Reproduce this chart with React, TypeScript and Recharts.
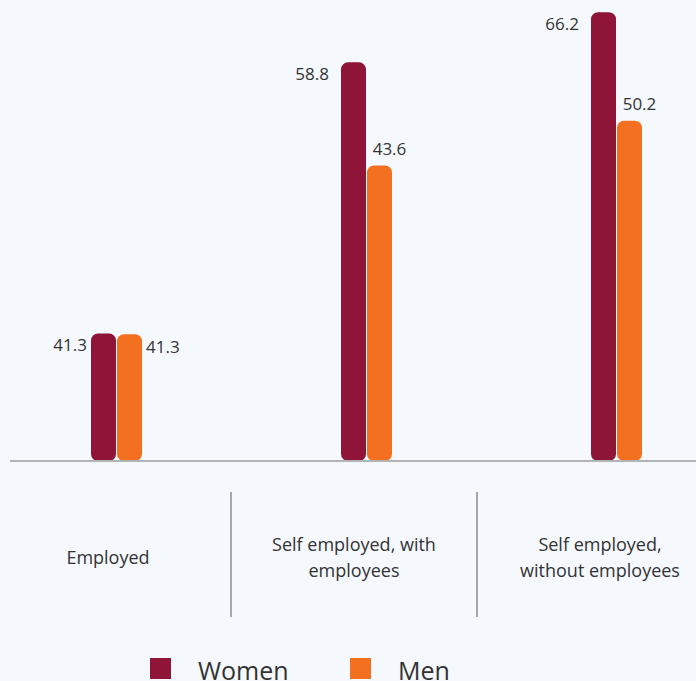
import { BarChart, Bar, XAxis, YAxis, Legend, LabelList } from 'recharts';

const categories = ['Employed', 'Self employed, with\nemployees', 'Self employed,\nwithout employees'];
// bar heights as drawn in the picture
const womenValues = [18.8, 58.8, 66.2];
const menValues = [18.7, 43.6, 50.2];
// printed value labels
const womenLabels = ['41.3', '58.8', '66.2'];
const menLabels = ['41.3', '43.6', '50.2'];
const seriesNames = ['Women', 'Men'];

const WOMEN = '#8e1538';
const MEN = '#f37021';
const TEXT = '#333333';
const FONT = '"Open Sans", sans-serif';

const data = categories.map((name, i) => ({
  idx: i,
  name,
  women: womenValues[i],
  men: menValues[i],
  womenLabel: womenLabels[i],
  menLabel: menLabels[i],
}));

function WomenLabel(props: any) {
  const { x, y, value, index } = props;
  const gap = index === 0 ? 4 : 12;
  return (
    <text x={x - gap} y={y + 11} textAnchor="end" dominantBaseline="central" fill={TEXT} fontSize={17} fontFamily={FONT}>
      {value}
    </text>
  );
}

function MenLabel(props: any) {
  const { x, y, width, value, index } = props;
  if (index === 0) {
    return (
      <text x={x + width + 4} y={y + 12} textAnchor="start" dominantBaseline="central" fill={TEXT} fontSize={17} fontFamily={FONT}>
        {value}
      </text>
    );
  }
  return (
    <text x={x + width / 2 + 10} y={y - 17} textAnchor="middle" dominantBaseline="central" fill={TEXT} fontSize={17} fontFamily={FONT}>
      {value}
    </text>
  );
}

function CategoryTick(props: any) {
  const { x, y, payload } = props;
  const lines: string[] = categories[payload.value].split('\n');
  const lh = 26;
  const start = 95.5 - ((lines.length - 1) * lh) / 2;
  return (
    <g>
      {payload.value > 0 && (
        <line x1={x - 123} x2={x - 123} y1={y + 31} y2={y + 156} stroke="#a6a6a6" strokeWidth={2} />
      )}
      {lines.map((l, i) => (
        <text key={i} x={x} y={y + start + i * lh} textAnchor="middle" dominantBaseline="central" fill={TEXT} fontSize={18} fontFamily={FONT}>
          {l}
        </text>
      ))}
    </g>
  );
}

function LegendContent() {
  const colors = [WOMEN, MEN];
  return (
    <svg width={696} height={31} style={{ display: 'block' }}>
      {seriesNames.map((n, i) => (
        <g key={n}>
          <rect x={150 + i * 200} y={8} width={21} height={21} fill={colors[i]} />
          <text x={198 + i * 200} y={30} fill={TEXT} fontSize={25} fontFamily={FONT}>
            {n}
          </text>
        </g>
      ))}
    </svg>
  );
}

export default function App() {
  return (
    <div
      style={{
        position: 'absolute',
        left: 0,
        top: 0,
        width: 696,
        height: 681,
        background: '#f5f8fc',
        overflow: 'hidden',
        fontFamily: FONT,
      }}
    >
      <BarChart width={696} height={681} data={data} margin={{ top: 0, right: 0, left: 10, bottom: 9 }} barGap={1}>
        <XAxis
          xAxisId="labels"
          type="number"
          dataKey="idx"
          domain={[-98 / 246, 588 / 246]}
          ticks={[0, 1, 2]}
          allowDataOverflow
          interval={0}
          height={180}
          tickSize={0}
          tickMargin={0}
          tickLine={false}
          axisLine={{ stroke: '#b3b3b3', strokeWidth: 2 }}
          tick={<CategoryTick />}
        />
        <XAxis
          xAxisId="bars"
          type="number"
          dataKey="idx"
          domain={[-0.424, 2.32]}
          ticks={[0, 1, 2]}
          allowDataOverflow
          height={0}
          hide
        />
        <YAxis hide domain={[0, 68]} allowDataOverflow />
        <Legend
          verticalAlign="bottom"
          content={<LegendContent />}
          wrapperStyle={{ left: 0, top: 650, bottom: 'auto', width: 696 }}
        />
        <Bar xAxisId="bars" dataKey="women" fill={WOMEN} barSize={25} radius={7} isAnimationActive={false}>
          <LabelList dataKey="womenLabel" content={<WomenLabel />} />
        </Bar>
        <Bar xAxisId="bars" dataKey="men" fill={MEN} barSize={25} radius={7} isAnimationActive={false}>
          <LabelList dataKey="menLabel" content={<MenLabel />} />
        </Bar>
      </BarChart>
    </div>
  );
}
